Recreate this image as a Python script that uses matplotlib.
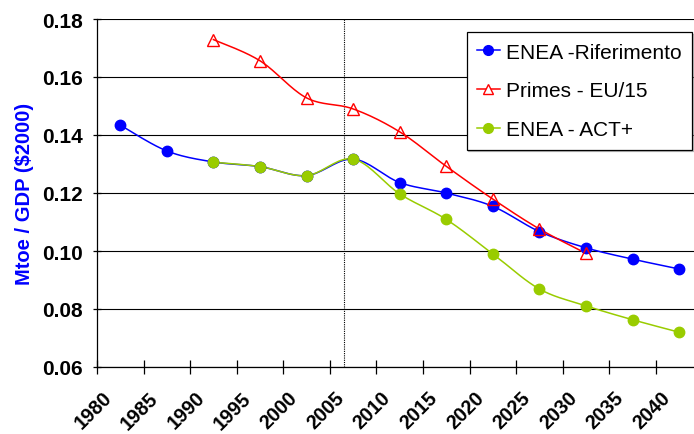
import numpy as np
import matplotlib
matplotlib.use("Agg")
import matplotlib.pyplot as plt
import matplotlib.transforms as mtransforms

# period centres (5-year periods 1980-2045)
x_rif = [1982.5, 1987.5, 1992.5, 1997.5, 2002.5, 2007.5, 2012.5, 2017.5,
         2022.5, 2027.5, 2032.5, 2037.5, 2042.5]
enea_rif = [0.1434, 0.1345, 0.1307, 0.1291, 0.1260, 0.1317, 0.1236, 0.1200,
            0.1154, 0.1067, 0.1011, 0.0972, 0.0938]

x_primes = [1992.5, 1997.5, 2002.5, 2007.5, 2012.5, 2017.5, 2022.5, 2027.5, 2032.5]
primes = [0.1729, 0.1656, 0.1528, 0.1490, 0.1411, 0.1292, 0.1179, 0.1076, 0.0992]

x_act = [1992.5, 1997.5, 2002.5, 2007.5, 2012.5, 2017.5, 2022.5, 2027.5,
         2032.5, 2037.5, 2042.5]
enea_act = [0.1306, 0.1291, 0.1260, 0.1317, 0.1197, 0.1109, 0.0990, 0.0869,
            0.0811, 0.0763, 0.0720]

tick_years = list(range(1980, 2045, 5))
y_ticks = [0.06, 0.08, 0.10, 0.12, 0.14, 0.16, 0.18]
base_year = 2006.5


def smooth(xs, ys, n=20):
    # Excel-like smoothed line (Catmull-Rom / Bezier through the points)
    p = np.column_stack([xs, ys]).astype(float)
    p = np.vstack([p[0], p, p[-1]])
    out = []
    for i in range(1, len(p) - 2):
        p0, p1, p2, p3 = p[i - 1], p[i], p[i + 1], p[i + 2]
        c1 = p1 + (p2 - p0) / 6
        c2 = p2 - (p3 - p1) / 6
        t = np.linspace(0, 1, n)[:, None]
        seg = ((1 - t) ** 3) * p1 + 3 * ((1 - t) ** 2) * t * c1 + 3 * (1 - t) * t ** 2 * c2 + t ** 3 * p2
        out.append(seg if i == 1 else seg[1:])
    s = np.vstack(out)
    return s[:, 0], s[:, 1]


plt.rcParams['font.family'] = ['Liberation Sans', 'DejaVu Sans']

fig = plt.figure(figsize=(6.94, 4.35), dpi=100)
ax = fig.add_axes([97 / 694, 1 - 368 / 435, 1 - 97 / 694, 348 / 435])

series = [
    (x_rif, enea_rif, '#0000FF', 'o', 'ENEA -Riferimento'),
    (x_primes, primes, '#FF0000', '^', 'Primes - EU/15'),
    (x_act, enea_act, '#99CC00', 'o', 'ENEA - ACT+'),
]
for xs, ys, col, mk, lab in series:
    sx, sy = smooth(xs, ys)
    ax.plot(sx, sy, color=col, lw=1.1, zorder=3)
    if mk == '^':
        ax.plot(xs, ys, ls='none', marker=mk, ms=8, mfc='none', mec=col, mew=1.0, zorder=4)
        ax.plot([], [], color=col, lw=1.1, marker=mk, ms=7, mfc='white', mec=col, label=lab)
    else:
        ax.plot(xs, ys, ls='none', marker=mk, ms=7.5, mfc=col, mec=col, zorder=4)
        ax.plot([], [], color=col, lw=1.1, marker=mk, ms=7, label=lab)

ax.axvline(base_year, color='black', lw=0.8, ls=(0, (1, 1)), zorder=2)

ax.set_xlim(1980, 2044.1)
ax.set_ylim(0.06, 0.18)
ax.set_yticks(y_ticks)
ax.set_yticklabels(['%.2f' % v for v in y_ticks], fontsize=15, fontweight='bold')
ax.set_xticks(tick_years)
ax.set_xticklabels([str(y) for y in tick_years], fontsize=14.2, fontweight='bold',
                   rotation=45, ha='center', va='top')
ax.tick_params(axis='x', direction='inout', length=10, width=0.9, pad=10)
ax.tick_params(axis='y', direction='inout', length=6, width=0.9, pad=7)
shift = mtransforms.ScaledTranslation(-4 / 100, 0, fig.dpi_scale_trans)
for lbl in ax.get_xticklabels():
    lbl.set_transform(lbl.get_transform() + shift)

ax.grid(axis='y', color='black', lw=0.8)
ax.set_axisbelow(True)
ax.spines['top'].set_visible(False)
ax.spines['right'].set_visible(False)
ax.spines['left'].set_linewidth(0.9)
ax.spines['bottom'].set_linewidth(0.9)

ax.set_ylabel('Mtoe / GDP ($2000)', color='#0000FF', fontsize=14.5, fontweight='bold', labelpad=6)

leg = ax.legend(loc='upper right', bbox_to_anchor=(0.997, 0.962), borderaxespad=0,
                fontsize=15, frameon=True, fancybox=False, edgecolor='black',
                handlelength=1.1, handletextpad=0.3, labelspacing=0.95,
                borderpad=0.5, shadow={'ox': 1, 'oy': -1, 'color': '0.55'})
leg.get_frame().set_linewidth(0.9)
leg.set_zorder(5)

fig.savefig('out.png', dpi=100)
